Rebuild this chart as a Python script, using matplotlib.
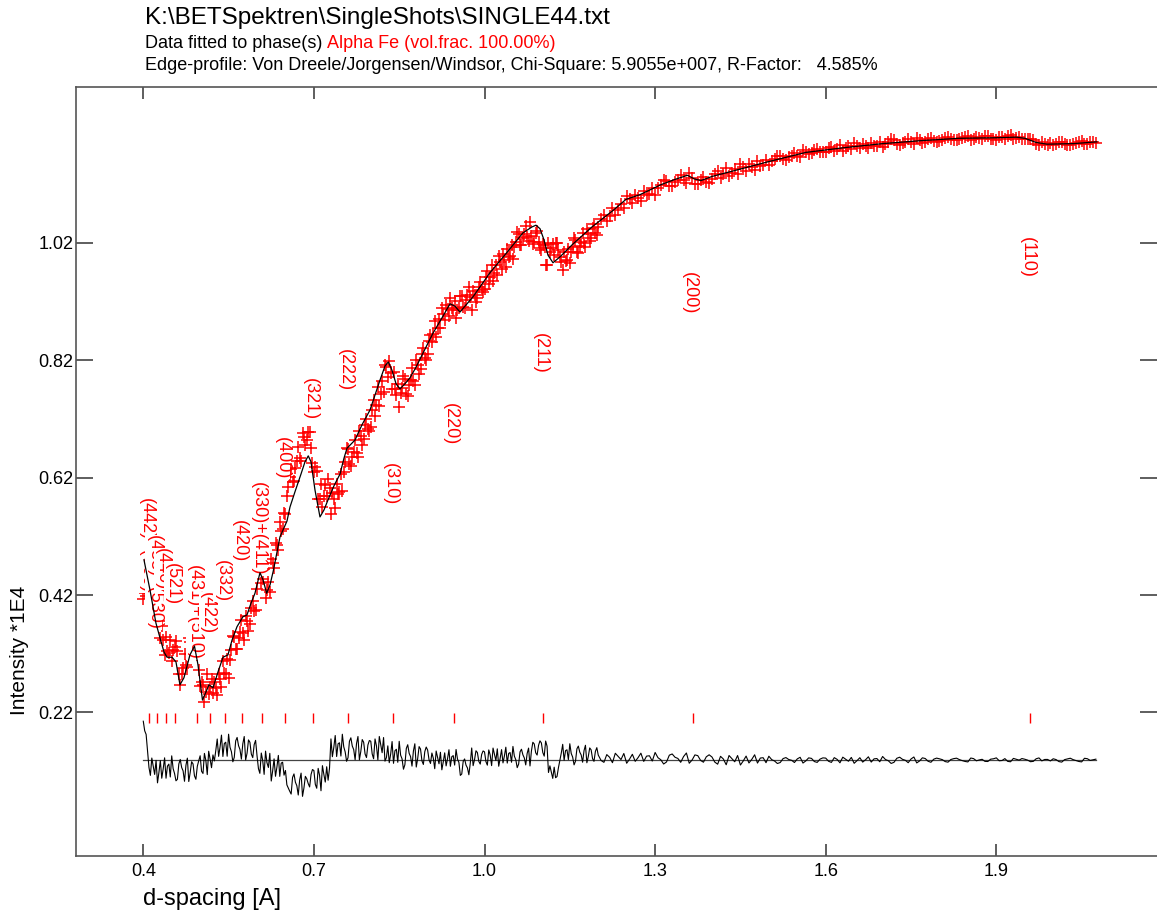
import numpy as np
import matplotlib
matplotlib.use("Agg")
import matplotlib.pyplot as plt
import matplotlib.transforms as mtransforms

plt.rcParams['font.family'] = ['Liberation Sans', 'DejaVu Sans']

# calculated (fitted) transmission curve
fit_d = [0.4012, 0.4118, 0.4223, 0.4294, 0.4364, 0.4417, 0.4505, 0.4575, 0.4645, 0.4715,
         0.4821, 0.4900, 0.4962, 0.5041, 0.5103, 0.5155, 0.5226, 0.5314, 0.5402, 0.5489,
         0.5560, 0.5648, 0.5753, 0.5823, 0.5894, 0.5964, 0.6052, 0.6105, 0.6170, 0.6228,
         0.6286, 0.6404, 0.6527, 0.6580, 0.6668, 0.6773, 0.6844, 0.6901, 0.6949, 0.7019,
         0.7107, 0.7178, 0.7248, 0.7353, 0.7459, 0.7529, 0.7582, 0.7723, 0.7846, 0.7986,
         0.8162, 0.8250, 0.8308, 0.8373, 0.8444, 0.8514, 0.8602, 0.8690, 0.8795, 0.8918,
         0.9094, 0.9270, 0.9393, 0.9481, 0.9569, 0.9674, 0.9798, 1.0096, 1.0390, 1.0677,
         1.0835, 1.0905, 1.0976, 1.1046, 1.1116, 1.1204, 1.1327, 1.1556, 1.1890, 1.2259,
         1.2488, 1.2734, 1.3103, 1.3350, 1.3570, 1.3684, 1.3807, 1.4000, 1.4317, 1.4985,
         1.5653, 1.6321, 1.7007, 1.7675, 1.8343, 1.9012, 1.9346, 1.9504, 1.9697, 1.9891,
         2.0366, 2.0770]
fit_y = [0.480, 0.4285, 0.372, 0.347, 0.323, 0.314, 0.314, 0.306, 0.267, 0.279,
         0.318, 0.333, 0.301, 0.241, 0.255, 0.267, 0.262, 0.289, 0.314, 0.318,
         0.343, 0.366, 0.383, 0.386, 0.406, 0.423, 0.458, 0.446, 0.423, 0.437,
         0.461, 0.519, 0.546, 0.570, 0.596, 0.626, 0.647, 0.657, 0.647, 0.599,
         0.553, 0.565, 0.582, 0.606, 0.626, 0.653, 0.670, 0.684, 0.710, 0.735,
         0.786, 0.810, 0.817, 0.803, 0.780, 0.771, 0.780, 0.790, 0.808, 0.832,
         0.866, 0.895, 0.916, 0.912, 0.902, 0.914, 0.928, 0.969, 1.003, 1.037,
         1.047, 1.050, 1.044, 1.025, 0.999, 0.986, 0.996, 1.018, 1.047, 1.075,
         1.094, 1.102, 1.119, 1.128, 1.135, 1.129, 1.126, 1.133, 1.141, 1.158,
         1.174, 1.182, 1.189, 1.194, 1.198, 1.199, 1.200, 1.198, 1.191, 1.188,
         1.189, 1.192]

# observed points, two interleaved sampling grids
obs_a_d = np.r_[np.linspace(0.400, 1.195, 160), np.linspace(1.20, 2.07, 88)]
obs_a_y = [0.414, 0.418, 0.450, 0.408, 0.409, 0.4015, 0.346, 0.343, 0.348, 0.321,
           0.307, 0.332, 0.325, 0.267, 0.295, 0.301, 0.347, 0.3265, 0.360, 0.318,
           0.265, 0.266, 0.255, 0.251, 0.277, 0.271, 0.249, 0.277, 0.3075, 0.286,
           0.278, 0.3255, 0.349, 0.328, 0.3565, 0.355, 0.385, 0.3595, 0.3975, 0.3935,
           0.430, 0.480, 0.448, 0.415, 0.443, 0.482, 0.466, 0.5045, 0.545, 0.533,
           0.558, 0.6045, 0.634, 0.6145, 0.649, 0.6535, 0.696, 0.676, 0.697, 0.671,
           0.630, 0.631, 0.583, 0.570, 0.608, 0.617, 0.558, 0.584, 0.609, 0.595,
           0.598, 0.646, 0.668, 0.639, 0.664, 0.6615, 0.700, 0.676, 0.7095, 0.703,
           0.707, 0.7515, 0.744, 0.7425, 0.784, 0.812, 0.792, 0.798, 0.800, 0.761,
           0.741, 0.7727, 0.788, 0.7595, 0.786, 0.785, 0.821, 0.796, 0.830, 0.824,
           0.831, 0.8635, 0.864, 0.860, 0.890, 0.9085, 0.888, 0.9065, 0.9265, 0.906,
           0.892, 0.9085, 0.9295, 0.9095, 0.9305, 0.928, 0.938, 0.9195, 0.9445, 0.9395,
           0.942, 0.9715, 0.961, 0.955, 0.982, 0.9975, 0.975, 0.9915, 1.0095, 0.9975,
           0.993, 1.0215, 1.035, 1.0155, 1.035, 1.0305, 1.055, 1.0175, 1.0375, 1.0215,
           1.0085, 1.017, 0.9815, 1.004, 1.018, 1.020, 1.007, 0.9865, 1.0035, 0.9905,
           0.985, 1.0125, 1.024, 1.0025, 1.022, 1.019, 1.044, 1.023, 1.0455, 1.037,
           1.047, 1.067, 1.066, 1.067, 1.086, 1.100, 1.088, 1.097, 1.1075, 1.1025,
           1.1015, 1.1185, 1.126, 1.116, 1.127, 1.127, 1.139, 1.120, 1.127, 1.124,
           1.128, 1.1427, 1.1364, 1.133, 1.1462, 1.1543, 1.1416, 1.1497, 1.1586, 1.152,
           1.152, 1.1625, 1.1675, 1.1615, 1.1685, 1.1685, 1.178, 1.171, 1.1785, 1.1755,
           1.175, 1.1835, 1.1795, 1.177, 1.185, 1.1895, 1.181, 1.1855, 1.1905, 1.1855,
           1.183, 1.191, 1.1945, 1.1865, 1.1925, 1.191, 1.1985, 1.1905, 1.197, 1.194,
           1.194, 1.1993, 1.1964, 1.1947, 1.1992, 1.2016, 1.1961, 1.1985, 1.2011, 1.1975,
           1.1954, 1.2002, 1.202, 1.1972, 1.1996, 1.1968, 1.1975, 1.1889, 1.191, 1.1871,
           1.1862, 1.1912, 1.1881, 1.1859, 1.1902, 1.1933, 1.1886, 1.1912]

obs_b_d = np.r_[np.linspace(0.4025, 1.1975, 160), np.linspace(1.205, 2.075, 88)]
obs_b_y = [0.424, 0.433, 0.451, 0.4085, 0.372, 0.375, 0.3675, 0.3175, 0.3245, 0.343,
           0.3265, 0.3415, 0.285, 0.285, 0.319, 0.298, 0.340, 0.335, 0.353, 0.2925,
           0.2725, 0.2375, 0.285, 0.264, 0.2535, 0.261, 0.286, 0.264, 0.287, 0.311,
           0.309, 0.350, 0.3275, 0.346, 0.377, 0.344, 0.375, 0.3705, 0.4095, 0.394,
           0.462, 0.441, 0.4635, 0.429, 0.425, 0.475, 0.508, 0.497, 0.529, 0.5605,
           0.588, 0.621, 0.613, 0.636, 0.672, 0.649, 0.689, 0.6845, 0.698, 0.6455,
           0.6375, 0.584, 0.6085, 0.589, 0.588, 0.602, 0.594, 0.5685, 0.592, 0.6255,
           0.629, 0.670, 0.6425, 0.6555, 0.684, 0.655, 0.691, 0.685, 0.720, 0.700,
           0.736, 0.725, 0.775, 0.763, 0.765, 0.809, 0.818, 0.771, 0.7705, 0.780,
           0.764, 0.793, 0.763, 0.777, 0.8065, 0.777, 0.8115, 0.805, 0.841, 0.821,
           0.8525, 0.8505, 0.886, 0.875, 0.8745, 0.899, 0.9145, 0.8955, 0.909, 0.921,
           0.9055, 0.929, 0.911, 0.923, 0.945, 0.905, 0.931, 0.926, 0.9525, 0.937,
           0.962, 0.949, 0.982, 0.9685, 0.965, 0.987, 1.0005, 0.9795, 0.996, 1.017,
           1.0125, 1.038, 1.017, 1.028, 1.0485, 1.023, 1.031, 1.0215, 1.040, 1.0115,
           1.018, 0.982, 1.019, 1.011, 1.000, 1.020, 0.9965, 0.974, 0.9895, 1.0095,
           1.004, 1.028, 1.005, 1.015, 1.0365, 1.012, 1.0355, 1.0285, 1.052, 1.0325,
           1.060, 1.0576, 1.079, 1.0766, 1.0798, 1.0946, 1.1016, 1.0912, 1.1008, 1.1138,
           1.1127, 1.1276, 1.1162, 1.1234, 1.1352, 1.1225, 1.1309, 1.120, 1.1314, 1.1224,
           1.138, 1.1306, 1.1475, 1.1396, 1.1368, 1.1486, 1.1546, 1.1432, 1.1513, 1.1618,
           1.159, 1.168, 1.162, 1.166, 1.1735, 1.167, 1.1755, 1.1725, 1.1805, 1.174,
           1.181, 1.176, 1.186, 1.181, 1.179, 1.1855, 1.189, 1.181, 1.1855, 1.1915,
           1.1885, 1.196, 1.188, 1.1905, 1.197, 1.188, 1.1955, 1.192, 1.199, 1.1925,
           1.1957, 1.2006, 1.1952, 1.1974, 1.2007, 1.195, 1.1999, 1.1975, 1.2014, 1.1969,
           1.2005, 1.1971, 1.2028, 1.1987, 1.1963, 1.1966, 1.1951, 1.1867, 1.1878, 1.1898,
           1.1877, 1.1922, 1.187, 1.1884, 1.1922, 1.1875, 1.1919, 1.1905]
assert len(obs_a_y) == len(obs_a_d) and len(obs_b_y) == len(obs_b_d)

DIFF_OFFSET = 0.139

# reflection positions (Alpha Fe) and their labels
refl_d = [0.4103, 0.4241, 0.4392, 0.4558, 0.4947, 0.5176, 0.5436, 0.5735, 0.6081,
          0.6491, 0.6986, 0.7600, 0.8390, 0.9460, 1.1027, 1.3658, 1.9594]
refl_lbl = ["(442)+(600)", "(433)+(530)", "(440)", "(521)", "(431)+(510)", "(422)",
            "(332)", "(420)", "(330)+(411)", "(400)", "(321)", "(222)", "(310)",
            "(220)", "(211)", "(200)", "(110)"]
refl_lbl_top = [0.585, 0.522, 0.500, 0.4745, 0.471, 0.425, 0.480, 0.548, 0.6125,
                0.689, 0.790, 0.839, 0.645, 0.747, 0.866, 0.970, 1.030]

xticks = [0.4, 0.7, 1.0, 1.3, 1.6, 1.9]
yticks = [0.22, 0.42, 0.62, 0.82, 1.02]

W, H = 1157, 915
fig = plt.figure(figsize=(W / 100, H / 100), dpi=100)
ax = fig.add_axes([76 / W, 1 - 855.7 / H, (W - 76) / W, (855.7 - 87) / H])

obs_d = np.r_[obs_a_d, obs_b_d]
obs_y = np.r_[obs_a_y, obs_b_y]
order = np.argsort(obs_d)
obs_d, obs_y = obs_d[order], obs_y[order]

ax.plot(obs_d, obs_y, ls="none", marker="+", ms=8.5, mew=1.1, color="red", zorder=2)
ax.plot(fit_d, fit_y, color="black", lw=0.9, zorder=4)

# difference curve (calc - obs), shifted below the data
calc_at_obs = np.interp(obs_d, fit_d, fit_y)
diff = DIFF_OFFSET + calc_at_obs - obs_y
ax.plot([obs_d[0], obs_d[-1]], [DIFF_OFFSET, DIFF_OFFSET], color="#444444", lw=0.9, zorder=3)
ax.plot(obs_d, diff, color="black", lw=0.8, zorder=4)

ax.vlines(refl_d, 0.2012, 0.2183, color="red", lw=1.0, zorder=3)
shift = mtransforms.ScaledTranslation(-3 / 100, 0, fig.dpi_scale_trans)
for d, lbl, top in zip(refl_d, refl_lbl, refl_lbl_top):
    ax.text(d, top, lbl, rotation=270, ha="center", va="top", color="red",
            fontsize=13, transform=ax.transData + shift, zorder=3.5,
            bbox=dict(facecolor="white", edgecolor="none", pad=0))

ax.set_xlim(0.2817, 2.1825)
ax.set_ylim(-0.0241, 1.2854)
ax.set_xticks(xticks)
ax.set_xticklabels([f"{v:.1f}" for v in xticks])
ax.set_yticks(yticks)
ax.set_yticklabels([f"{v:.2f}" for v in yticks])

for s in ["left", "bottom", "top"]:
    ax.spines[s].set_color("#555555")
    ax.spines[s].set_linewidth(1.2)
ax.spines["right"].set_visible(False)
ax.tick_params(axis="y", which="major", direction="in", length=12, width=1.1,
               color="#333333", labelsize=13, pad=2, left=True, right=True)
ax.tick_params(axis="x", which="major", direction="in", length=8.5, width=1.1,
               color="#333333", labelsize=13, pad=5, bottom=True, top=True)

# titles
fig.text(145 / W, 1 - 24 / H, r"K:\BETSpektren\SingleShots\SINGLE44.txt",
         fontsize=17.5, va="baseline", ha="left")
t1 = fig.text(145 / W, 1 - 48 / H, "Data fitted to phase(s)", fontsize=13,
              va="baseline", ha="left")
fig.canvas.draw()
bb = t1.get_window_extent()
fig.text((bb.x1 + 5) / W, 1 - 48 / H, "Alpha Fe (vol.frac. 100.00%)", fontsize=13,
         va="baseline", ha="left", color="red")
fig.text(145 / W, 1 - 70 / H,
         "Edge-profile: Von Dreele/Jorgensen/Windsor, Chi-Square: 5.9055e+007, R-Factor:   4.585%",
         fontsize=13, va="baseline", ha="left")

fig.text(143 / W, 1 - 905 / H, "d-spacing [A]", fontsize=17, va="baseline", ha="left")
fig.text(20 / W, 1 - 650 / H, "Intensity *1E4", fontsize=15, rotation=90,
         ha="center", va="center")

fig.savefig("out.png", dpi=100)
